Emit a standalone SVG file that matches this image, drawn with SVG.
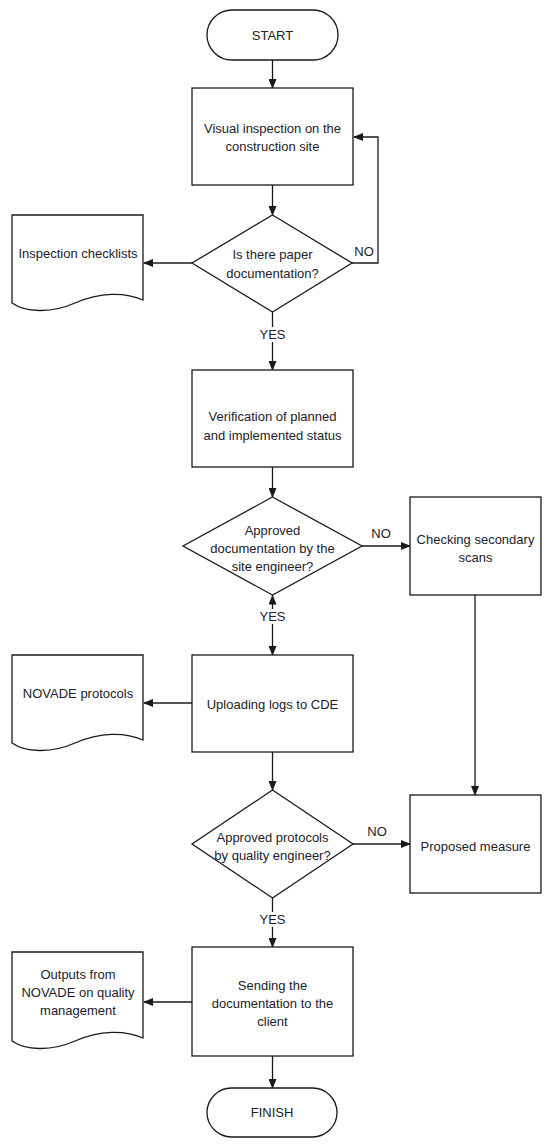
<svg xmlns="http://www.w3.org/2000/svg" width="550" height="1148" viewBox="0 0 550 1148">
<style>
.s{fill:#fff;stroke:#1a1a1a;stroke-width:1.3}
.c{fill:none;stroke:#1a1a1a;stroke-width:1.3}
text{font-family:"Liberation Sans",Arial,sans-serif;font-size:13px;fill:#22222c;text-anchor:middle}
</style>
<defs>
<marker id="a" markerWidth="10" markerHeight="8" refX="9" refY="4" orient="auto" markerUnits="userSpaceOnUse">
<path d="M0,0 L10,4 L0,8 Z" fill="#1a1a1a"/>
</marker>
</defs>
<rect width="550" height="1148" fill="#fff"/>
<g id="connectors">
<path class="c" d="M272.5,60 V88" marker-end="url(#a)"/>
<path class="c" d="M272.5,185 V215" marker-end="url(#a)"/>
<path class="c" d="M352,263 H378 V137 H354" marker-end="url(#a)"/>
<path class="c" d="M192,263 H144" marker-end="url(#a)"/>
<path class="c" d="M272.5,312 V370" marker-end="url(#a)"/>
<path class="c" d="M272.5,467 V497" marker-end="url(#a)"/>
<path class="c" d="M362,546 H410" marker-end="url(#a)"/>
<path class="c" d="M272.5,625 V595.5" marker-end="url(#a)"/>
<path class="c" d="M272.5,625 V655" marker-end="url(#a)"/>
<path class="c" d="M192,703 H144" marker-end="url(#a)"/>
<path class="c" d="M272.5,752 V790" marker-end="url(#a)"/>
<path class="c" d="M475,595 V795" marker-end="url(#a)"/>
<path class="c" d="M353,844 H410" marker-end="url(#a)"/>
<path class="c" d="M272.5,898 V947" marker-end="url(#a)"/>
<path class="c" d="M192,1002 H144" marker-end="url(#a)"/>
<path class="c" d="M272.5,1056 V1088" marker-end="url(#a)"/>
<text x="364" y="256">NO</text>
<rect x="259" y="327" width="28" height="15" fill="#fff"/>
<text x="272.5" y="339">YES</text>
<text x="381" y="538">NO</text>
<rect x="259" y="609" width="28" height="15" fill="#fff"/>
<text x="272.5" y="621">YES</text>
<text x="377" y="836">NO</text>
<rect x="259" y="912" width="28" height="15" fill="#fff"/>
<text x="272.5" y="924">YES</text>
</g>
<g id="start">
<rect class="s" x="207" y="10" width="131" height="50" rx="25"/>
<text x="272.5" y="40">START</text>
</g>
<g id="visual">
<rect class="s" x="192" y="88" width="161" height="97"/>
<text x="272.5" y="133">Visual inspection on the</text>
<text x="272.5" y="151">construction site</text>
</g>
<g id="paper">
<path class="s" d="M272.5,215 L352,263 L272.5,312 L192,263 Z"/>
<text x="272.5" y="259">Is there paper</text>
<text x="272.5" y="278">documentation?</text>
</g>
<g id="checklists">
<path class="s" d="M12,215 H143 V300 C125,292 100,292 75,303 C50,314 25,312 12,303 Z"/>
<text x="78" y="258">Inspection checklists</text>
</g>
<g id="verification">
<rect class="s" x="192" y="370" width="161" height="97"/>
<text x="272.5" y="421">Verification of planned</text>
<text x="272.5" y="440">and implemented status</text>
</g>
<g id="approved1">
<path class="s" d="M272.5,497 L362,546 L272.5,595 L183,546 Z"/>
<text x="272.5" y="535">Approved</text>
<text x="272.5" y="553">documentation by the</text>
<text x="272.5" y="571">site engineer?</text>
</g>
<g id="secondary">
<rect class="s" x="410" y="497" width="131" height="98"/>
<text x="475.5" y="544">Checking secondary</text>
<text x="475.5" y="562">scans</text>
</g>
<g id="uploading">
<rect class="s" x="192" y="655" width="161" height="97"/>
<text x="272.5" y="709">Uploading logs to CDE</text>
</g>
<g id="novade">
<path class="s" d="M12,655 H143 V740 C125,732 100,732 75,743 C50,754 25,752 12,743 Z"/>
<text x="78" y="698">NOVADE protocols</text>
</g>
<g id="approved2">
<path class="s" d="M272.5,790 L353,844 L272.5,898 L192,844 Z"/>
<text x="272.5" y="842">Approved protocols</text>
<text x="272.5" y="860">by quality engineer?</text>
</g>
<g id="measure">
<rect class="s" x="410" y="795" width="131" height="98"/>
<text x="475.5" y="851">Proposed measure</text>
</g>
<g id="sending">
<rect class="s" x="192" y="947" width="161" height="109"/>
<text x="272.5" y="990">Sending the</text>
<text x="272.5" y="1008">documentation to the</text>
<text x="272.5" y="1026">client</text>
</g>
<g id="outputs">
<path class="s" d="M12,952 H143 V1038 C125,1030 100,1030 75,1041 C50,1052 25,1050 12,1041 Z"/>
<text x="78" y="979">Outputs from</text>
<text x="78" y="997">NOVADE on quality</text>
<text x="78" y="1015">management</text>
</g>
<g id="finish">
<rect class="s" x="207" y="1088" width="130" height="49" rx="24.5"/>
<text x="272" y="1117">FINISH</text>
</g>
</svg>
